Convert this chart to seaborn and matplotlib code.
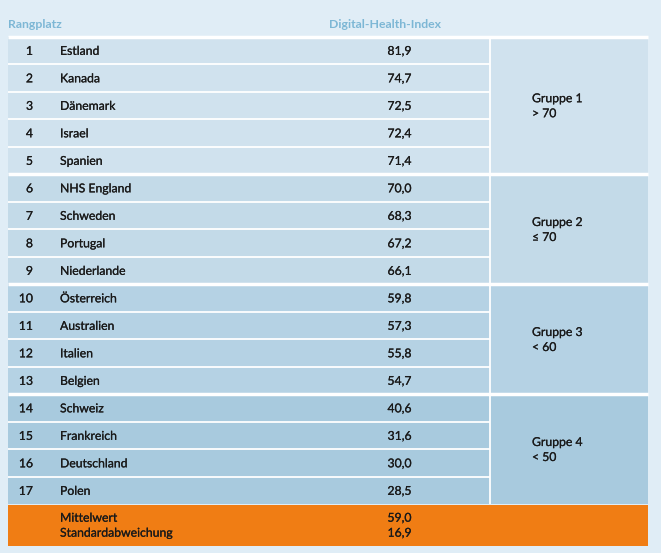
import matplotlib
matplotlib.use("Agg")
import matplotlib.pyplot as plt
from matplotlib.patches import Rectangle
import matplotlib.patheffects as pe
import seaborn as sns

# ---- data ----
ranks = list(range(1, 18))
countries = ["Estland", "Kanada", "Dänemark", "Israel", "Spanien",
             "NHS England", "Schweden", "Portugal", "Niederlande",
             "Österreich", "Australien", "Italien", "Belgien",
             "Schweiz", "Frankreich", "Deutschland", "Polen"]
index_values = [81.9, 74.7, 72.5, 72.4, 71.4,
                70.0, 68.3, 67.2, 66.1,
                59.8, 57.3, 55.8, 54.7,
                40.6, 31.6, 30.0, 28.5]
group_names = ["Gruppe 1", "Gruppe 2", "Gruppe 3", "Gruppe 4"]
group_rules = ["> 70", "≤ 70", "< 60", "< 50"]
group_sizes = [5, 4, 4, 4]
mean_value = 59.0
sd_value = 16.9
header_rank = "Rangplatz"
header_index = "Digital-Health-Index"
footer_labels = ["Mittelwert", "Standardabweichung"]

# ---- style ----
sns.set_theme(style="white")
plt.rcParams["font.family"] = ["Lato", "DejaVu Sans"]

bg = "#e0edf6"
group_colors = ["#d0e2ee", "#c3dae8", "#b5d2e4", "#a8cade"]
orange = "#f07d14"
head_col = "#7db7d5"
txt = "#1a1a1a"

W, H = 661, 553
fig = plt.figure(figsize=(W / 100, H / 100), dpi=100, facecolor=bg)
ax = fig.add_axes([0, 0, 1, 1])
ax.set_facecolor(bg)
ax.set_xlim(0, W)
ax.set_ylim(H, 0)
ax.axis("off")

left, right = 8, 648
divider = 490
top = 36.5
rh = 27.5
fs = 8.8
thick = [pe.withStroke(linewidth=0.15, foreground=txt)]

def fmt(v):
    return f"{v:.1f}".replace(".", ",")

def put(x, y, s, ha="left", color=txt, weight="normal", effects=True):
    ax.text(x, y, s, color=color, fontsize=fs, va="baseline", ha=ha,
            fontweight=weight, path_effects=thick if effects else None)

# header
put(left, 28, header_rank, color=head_col, weight="bold", effects=False)
put(384.5, 28, header_index, ha="center", color=head_col, weight="bold", effects=False)

# rows
row = 0
for g, n in enumerate(group_sizes):
    gtop = top + row * rh
    gbot = gtop + n * rh
    ax.add_patch(Rectangle((left, gtop), right - left, n * rh,
                           facecolor=group_colors[g], edgecolor="none"))
    for k in range(n):
        i = row + k
        yb = top + (i + 0.5) * rh + 4.6
        put(33, yb, str(ranks[i]), ha="right")
        put(60, yb, countries[i])
        put(399.5, yb, fmt(index_values[i]), ha="center")
        if k > 0:
            ax.plot([left, divider], [top + i * rh] * 2, color="white", lw=1.3,
                    solid_capstyle="butt")
    ax.plot([left, right], [gtop, gtop], color="white", lw=2.5, solid_capstyle="butt")
    gc = (gtop + gbot) / 2
    put(532, gc - 3, group_names[g])
    put(532, gc + 12, group_rules[g])
    row += n

bottom = top + row * rh
ax.plot([divider, divider], [top, bottom], color="white", lw=1.3, solid_capstyle="butt")

# footer
ax.add_patch(Rectangle((left, bottom + 0.8), right - left, 41, facecolor=orange, edgecolor="none"))
put(60, bottom + 17.7, footer_labels[0])
put(60, bottom + 32.7, footer_labels[1])
put(399.5, bottom + 17.7, fmt(mean_value), ha="center")
put(399.5, bottom + 32.7, fmt(sd_value), ha="center")

fig.savefig("out.png", dpi=100, facecolor=bg)
